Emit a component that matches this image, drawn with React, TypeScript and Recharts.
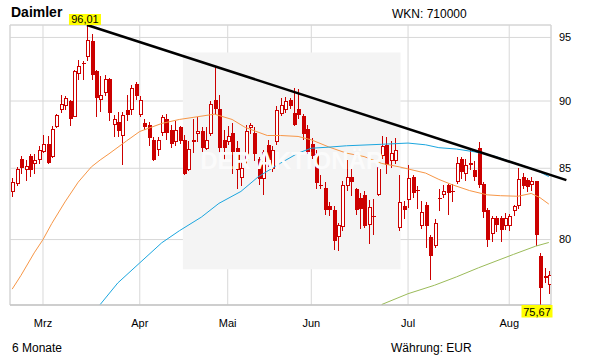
import React from "react";
import {
  ComposedChart,
  Bar,
  Line,
  XAxis,
  YAxis,
  CartesianGrid,
  ReferenceLine,
  ReferenceArea,
  ReferenceDot,
} from "recharts";

const RED = "#cc0000";

// daily candles, one entry per trading day (19 Feb - 13 Aug)
const opens = [
  83.3, 83.9, 85.7, 84.9, 85.9, 85.3, 85.6, 86.2, 86.8, 85.85,
  88.0, 89.3, 89.6, 90.0, 88.8, 92.1, 92.97, 93.4, 94.7, 92.3,
  90.1, 90.6, 91.7, 88.2, 88.4, 87.35, 89.3, 89.3, 91.3, 88.95,
  88.3, 88.2, 87.1, 86.3, 87.6, 88.6, 87.8, 86.9, 88.0, 87.1,
  84.9, 86.9, 87.5, 87.7, 86.4, 87.5, 90.1, 89.4, 87.1, 86.95,
  87.6, 86.5, 84.3, 85.6, 87.95, 87.6, 85.7, 84.2, 86.7, 84.95,
  86.9, 89.0, 89.3, 90.05, 89.1, 89.4, 88.85, 87.9, 86.8, 86.0,
  83.8, 83.6, 82.3, 82.06, 80.15, 80.85, 83.7, 84.35, 83.5, 82.9,
  83.1, 81.0, 81.65, 83.1, 85.9, 86.7, 85.55, 85.5, 80.8, 82.35,
  82.76, 84.35, 83.42, 80.95, 82.4, 80.2, 79.55, 82.9, 83.1, 83.82,
  83.4, 84.0, 85.65, 84.55, 85.2, 84.9, 86.5, 83.9, 82.06, 80.4,
  81.45, 81.45, 80.9, 80.9, 81.95, 82.35, 84.35, 84.15, 83.8, 84.05,
  78.9, 77.4, 77.0,
];
const highs = [
  84.3, 85.1, 85.9, 85.6, 86.0, 86.0, 86.6, 87.45, 87.4, 88.1,
  89.0, 90.5, 90.4, 90.1, 92.4, 93.2, 93.1, 96.01, 95.3, 92.4,
  91.9, 92.0, 91.8, 88.95, 89.2, 89.2, 90.5, 91.2, 91.5, 90.4,
  88.6, 88.4, 87.3, 87.3, 88.95, 89.0, 88.2, 88.5, 88.1, 87.45,
  87.0, 88.6, 88.8, 88.0, 88.0, 90.0, 92.7, 90.5, 87.8, 88.1,
  88.3, 87.0, 85.6, 88.2, 88.35, 88.0, 85.85, 86.3, 87.1, 86.6,
  89.6, 90.2, 90.3, 90.2, 91.0, 90.9, 89.05, 88.2, 87.2, 86.3,
  84.5, 84.0, 82.6, 82.3, 81.1, 84.1, 85.6, 85.0, 83.55, 83.2,
  83.4, 82.75, 82.8, 85.3, 87.4, 87.3, 87.0, 87.2, 84.5, 82.7,
  85.2, 84.5, 83.7, 82.7, 82.6, 80.3, 81.4, 83.5, 83.8, 83.9,
  83.9, 85.85, 85.85, 85.7, 86.45, 85.5, 86.9, 84.0, 82.2, 81.6,
  81.6, 81.6, 81.8, 81.75, 82.4, 85.0, 84.65, 84.3, 84.4, 84.1,
  79.1, 78.1, 77.9,
];
const lows = [
  82.95, 83.75, 84.6, 84.05, 84.4, 84.55, 85.3, 86.1, 85.3, 85.75,
  87.95, 89.1, 89.3, 88.1, 88.75, 91.6, 91.6, 93.1, 91.6, 88.75,
  89.2, 90.4, 88.5, 87.3, 87.3, 85.25, 88.5, 88.95, 90.1, 88.8,
  87.8, 86.6, 85.5, 85.9, 87.4, 87.1, 86.5, 86.6, 86.8, 84.5,
  84.8, 86.1, 86.9, 85.9, 86.3, 87.4, 88.95, 86.1, 85.6, 86.7,
  84.6, 83.5, 83.7, 85.3, 87.5, 85.5, 83.8, 83.1, 85.1, 84.7,
  86.7, 88.85, 89.1, 89.4, 88.1, 88.6, 87.1, 86.0, 85.7, 83.5,
  83.5, 81.7, 81.6, 79.3, 79.2, 80.6, 83.4, 83.05, 81.7, 80.7,
  80.8, 79.7, 80.3, 83.0, 85.7, 84.6, 85.0, 85.3, 80.6, 81.4,
  82.2, 82.9, 82.1, 80.7, 79.4, 77.3, 79.4, 82.0, 82.9, 81.7,
  82.6, 83.9, 84.2, 84.05, 84.9, 84.1, 83.6, 81.5, 79.5, 79.8,
  80.5, 79.8, 80.65, 80.6, 81.6, 82.1, 83.5, 83.3, 83.4, 79.55,
  75.67, 77.1, 76.4,
];
const closes = [
  84.0, 84.97, 85.0, 85.15, 84.9, 85.6, 86.3, 86.8, 85.4, 87.9,
  88.9, 89.75, 90.2, 88.6, 92.3, 92.7, 92.87, 94.8, 92.0, 90.2,
  90.5, 91.7, 89.1, 88.6, 87.7, 88.95, 88.9, 91.0, 90.4, 90.1,
  88.0, 87.2, 85.6, 87.1, 88.75, 87.6, 86.8, 87.8, 87.0, 84.6,
  86.4, 87.1, 87.75, 86.5, 87.1, 89.8, 89.4, 86.5, 86.5, 87.4,
  86.2, 84.9, 85.0, 87.7, 88.15, 86.0, 84.2, 86.15, 85.6, 86.3,
  89.3, 89.7, 90.0, 89.6, 88.2, 88.95, 87.5, 86.2, 85.9, 83.95,
  83.7, 82.05, 82.05, 79.9, 81.0, 83.8, 84.35, 84.0, 82.06, 82.1,
  80.9, 82.25, 81.55, 85.1, 86.6, 85.25, 86.1, 86.3, 82.6, 82.05,
  84.3, 83.2, 83.35, 81.9, 80.95, 78.9, 81.1, 82.8, 83.4, 83.25,
  83.3, 85.35, 84.7, 85.25, 85.35, 84.35, 83.8, 81.9, 79.95, 81.45,
  81.0, 80.65, 81.5, 81.6, 82.3, 84.25, 83.7, 83.65, 84.05, 80.34,
  76.8, 77.55, 77.6,
];

const monthTicks = [7, 29, 49, 68, 90, 113];
const monthLabels = ["Mrz", "Apr", "Mai", "Jun", "Jul", "Aug"];
const priceTicks = [80, 85, 90, 95];

const sma38 = [
  [0, 76.7], [2, 77.6], [5, 79.1], [7, 80.0], [9, 81.1], [12, 82.6], [15, 84.0],
  [18, 85.1], [20, 85.6], [22, 86.05], [26, 87.0], [29, 87.7], [34, 88.3],
  [38, 88.6], [42, 88.8], [46, 89.0], [50, 88.6], [53, 88.0], [58, 87.4],
  [61, 87.4], [65, 87.33], [68, 87.08], [72, 86.55], [76, 86.1], [80, 85.85],
  [84, 85.35], [88, 85.1], [94, 84.65], [97, 84.2], [100, 83.82], [104, 83.4],
  [108, 83.1], [111, 83.04], [115, 83.0], [118, 83.2], [120, 82.9], [122, 82.45],
];
const sma100 = [
  [20, 75.7], [24, 77.1], [29, 78.43], [34, 79.78], [38, 80.6], [43, 81.54],
  [47, 82.5], [52, 83.34], [56, 84.4], [61, 85.37], [65, 86.1], [68, 86.46],
  [72, 86.54], [76, 86.64], [84, 86.75], [90, 86.84], [94, 86.71], [97, 86.5],
  [101, 86.4], [105, 86.2], [110, 85.85], [114, 85.4], [119, 84.89], [122, 84.4],
];
const sma200 = [
  [84, 75.7], [90, 76.4], [96, 76.95], [101, 77.5], [106, 78.1], [110, 78.55],
  [114, 79.0], [119, 79.55], [122, 79.8],
];

const trendStart = { i: 17, price: 96.01 };
const trendEnd = { i: 126, price: 84.15 };
const periodHigh = { i: 17, price: 96.01, label: "96,01" };
const periodLow = { i: 120, price: 75.67, label: "75,67" };

const toMap = (pts: number[][]) => new Map(pts.map(([i, v]) => [i, v]));
const m38 = toMap(sma38);
const m100 = toMap(sma100);
const m200 = toMap(sma200);

const rows = opens.map((o, i) => ({
  i,
  wick: [lows[i], highs[i]],
  body: [Math.min(o, closes[i]), Math.max(o, closes[i])],
  up: closes[i] >= o,
  ma38: m38.get(i) ?? null,
  ma100: m100.get(i) ?? null,
  ma200: m200.get(i) ?? null,
}));

const xDomain = [-0.5, rows.length - 0.5];
const yDomain = [periodLow.price, periodHigh.price];

function Wick(props: any) {
  const { x, y, width, height } = props;
  const cx = Math.round(x + width / 2);
  return (
    <line
      x1={cx + 0.5}
      x2={cx + 0.5}
      y1={Math.round(y)}
      y2={Math.round(y + height)}
      stroke={RED}
      strokeWidth={1}
      shapeRendering="crispEdges"
    />
  );
}

function Body(props: any) {
  const { x, y, width, height, payload } = props;
  const cx = Math.round(x + width / 2);
  const top = Math.round(y);
  let bot = Math.round(y + height);
  if (bot - top < 1) bot = top + 1;
  if (payload.up) {
    return (
      <rect
        x={cx - 0.5}
        y={top + 0.5}
        width={3}
        height={Math.max(bot - top - 1, 1)}
        fill="#fff"
        stroke={RED}
        strokeWidth={1}
        shapeRendering="crispEdges"
      />
    );
  }
  return (
    <rect x={cx - 1} y={top} width={4} height={bot - top} fill={RED} shapeRendering="crispEdges" />
  );
}

function HighTag(props: any) {
  const { cx, cy } = props;
  return (
    <g>
      <rect x={cx - 18} y={cy - 11} width={32} height={11} fill="#ffff00" />
      <text x={cx - 2} y={cy - 2} textAnchor="middle" fontSize={11} fill="#000">
        {periodHigh.label}
      </text>
    </g>
  );
}

function LowTag(props: any) {
  const { cx, cy } = props;
  return (
    <g>
      <rect x={cx - 18.5} y={cy} width={31} height={12.5} fill="#ffff00" />
      <text x={cx - 3} y={cy + 10.5} textAnchor="middle" fontSize={11} fill="#000">
        {periodLow.label}
      </text>
    </g>
  );
}

export default function App() {
  return (
    <div
      style={{
        position: "absolute",
        left: 0,
        top: 0,
        width: 611,
        height: 364,
        background: "#fff",
        fontFamily: "'Liberation Sans', Arial, sans-serif",
      }}
    >
      <ComposedChart
        width={611}
        height={364}
        data={rows}
        margin={{ top: 25, right: 10, bottom: 29, left: 10 }}
      >
        <ReferenceArea
          x1={38.8}
          x2={88.3}
          y1={78}
          y2={93.8}
          fill="#f4f4f4"
          fillOpacity={1}
          stroke="none"
          ifOverflow="hidden"
          label={{
            value: "DER AKTIONÄR",
            position: "center",
            fill: "#fbfbfb",
            fontSize: 24,
            fontWeight: "bold",
          }}
        />
        <CartesianGrid stroke="#d8d8d8" />
        <ReferenceArea
          x1={xDomain[0]}
          x2={xDomain[1]}
          y1={yDomain[0]}
          y2={yDomain[1]}
          fill="none"
          stroke="#d4d4d4"
          ifOverflow="visible"
        />
        <XAxis
          type="number"
          dataKey="i"
          domain={xDomain}
          allowDataOverflow
          ticks={monthTicks}
          interval={0}
          tickFormatter={(v) => monthLabels[monthTicks.indexOf(v)]}
          tick={{ fontSize: 11, fill: "#000" }}
          tickLine={false}
          axisLine={{ stroke: "#bdbdbd" }}
          tickMargin={8}
          height={30}
        />
        <XAxis xAxisId="body" type="number" dataKey="i" domain={xDomain} allowDataOverflow hide />
        <YAxis
          scale="log"
          domain={yDomain}
          allowDataOverflow
          ticks={priceTicks}
          interval={0}
          orientation="right"
          width={50}
          tick={{ fontSize: 11, fill: "#000" }}
          tickLine={false}
          axisLine={false}
        />
        <Line type="linear" dataKey="ma38" stroke="#f79646" strokeWidth={1} dot={false} connectNulls isAnimationActive={false} />
        <Line type="linear" dataKey="ma100" stroke="#1ba6df" strokeWidth={1} dot={false} connectNulls isAnimationActive={false} />
        <Line type="linear" dataKey="ma200" stroke="#9bbb59" strokeWidth={1} dot={false} connectNulls isAnimationActive={false} />
        <Bar dataKey="wick" shape={<Wick />} isAnimationActive={false} />
        <Bar dataKey="body" xAxisId="body" shape={<Body />} isAnimationActive={false} />
        <ReferenceLine
          segment={[
            { x: trendStart.i, y: trendStart.price },
            { x: trendEnd.i, y: trendEnd.price },
          ]}
          stroke="#000"
          strokeWidth={2.5}
          ifOverflow="visible"
        />
        <ReferenceDot x={periodHigh.i} y={periodHigh.price} r={1} ifOverflow="visible" shape={<HighTag />} />
        <ReferenceDot x={periodLow.i} y={periodLow.price} r={1} ifOverflow="visible" shape={<LowTag />} />
      </ComposedChart>
      <svg
        width={611}
        height={364}
        style={{ position: "absolute", left: 0, top: 0, pointerEvents: "none" }}
      >
        <text x={11} y={17} fontSize={14} fontWeight="bold" fill="#000">
          Daimler
        </text>
        <text x={392} y={18} fontSize={12} fill="#000">
          WKN: 710000
        </text>
        <text x={12} y={352} fontSize={12} fill="#000">
          6 Monate
        </text>
        <text x={391} y={352} fontSize={12} fill="#000">
          Währung: EUR
        </text>
      </svg>
    </div>
  );
}
